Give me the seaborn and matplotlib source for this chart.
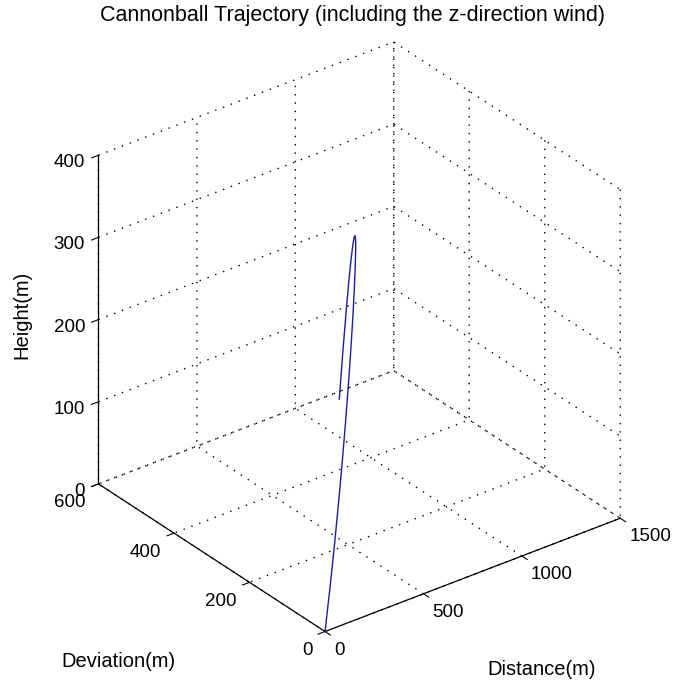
import numpy as np
import pandas as pd
import seaborn as sns
import matplotlib
matplotlib.use('Agg')
import matplotlib.pyplot as plt

# trajectory points (m)
distance = [0.0, 59.3, 118.5, 177.8, 237.0, 296.3, 355.5, 414.8, 474.0, 533.3, 592.5,
            651.8, 711.0, 770.3, 829.5, 888.8, 948.0, 1007.3, 1066.5, 1125.8, 1185.0]
deviation = [0.0, 17.4, 36.1, 55.9, 77.0, 99.3, 122.8, 147.6, 173.5, 200.7, 229.1,
             258.7, 289.5, 321.6, 354.8, 389.3, 425.0, 462.0, 500.1, 539.5, 580.0]
height = [0.0, 44.1, 86.9, 128.0, 166.6, 202.4, 234.6, 262.9, 286.3, 304.7, 317.2,
          323.4, 322.7, 314.5, 298.3, 273.4, 239.4, 195.6, 141.4, 76.4, 0.0]

x_ticks = [0, 500, 1000, 1500]
y_ticks = [0, 200, 400, 600]
z_ticks = [0, 100, 200, 300, 400]

df = pd.DataFrame({'Distance': distance, 'Deviation': deviation, 'Height': height})

sns.set_style('white')
plt.rcParams['font.family'] = ['Liberation Sans', 'DejaVu Sans']
plt.rcParams['grid.color'] = 'black'
plt.rcParams['grid.linestyle'] = (0, (1, 5))
plt.rcParams['grid.linewidth'] = 1.0

fig = plt.figure(figsize=(6.81, 6.85), dpi=100)
ax = fig.add_axes([0.0142, -0.0050, 1.0, 1.0], projection='3d', proj_type='ortho')
ax.view_init(elev=30, azim=-127.5)
ax.set_box_aspect((1, 1, 1.02), zoom=0.925)

ax.plot(df['Distance'], df['Deviation'], df['Height'], color='#1c1ca0', lw=1.0)

ax.set_xlim(0, 1500)
ax.set_ylim(0, 600)
ax.set_zlim(0, 400)
ax.set_xticks(x_ticks)
ax.set_yticks(y_ticks)
ax.set_zticks(z_ticks)

for axis, pad in ((ax.xaxis, 2), (ax.yaxis, 3), (ax.zaxis, -1.5)):
    axis.pane.fill = False
    axis.pane.set_edgecolor('white')
    axis.line.set_color('black')
    axis.line.set_linewidth(0.9)
    axis.set_tick_params(labelsize=13.5, colors='black', pad=pad)
    try:
        axis._axinfo['tick']['inward_factor'] = 0.3
        axis._axinfo['tick']['outward_factor'] = 0.0
    except (AttributeError, KeyError):
        pass

for lbl in ax.get_xticklabels():
    lbl.set_ha('left')
    lbl.set_va('center')
for lbl in ax.get_yticklabels():
    lbl.set_ha('right')
    lbl.set_va('center')
for lbl in ax.get_zticklabels():
    lbl.set_ha('right')

ax.grid(True)

fig.text(0.518, 0.978, 'Cannonball Trajectory (including the z-direction wind)',
         ha='center', va='center', fontsize=15.5, color='black')
fig.text(0.032, 0.540, 'Height(m)', rotation=90, ha='center', va='center',
         fontsize=14.5, color='black')
fig.text(0.174, 0.034, 'Deviation(m)', ha='center', va='center', fontsize=14.5, color='black')
fig.text(0.796, 0.022, 'Distance(m)', ha='center', va='center', fontsize=14.5, color='black')

fig.savefig('out.png', dpi=100)
